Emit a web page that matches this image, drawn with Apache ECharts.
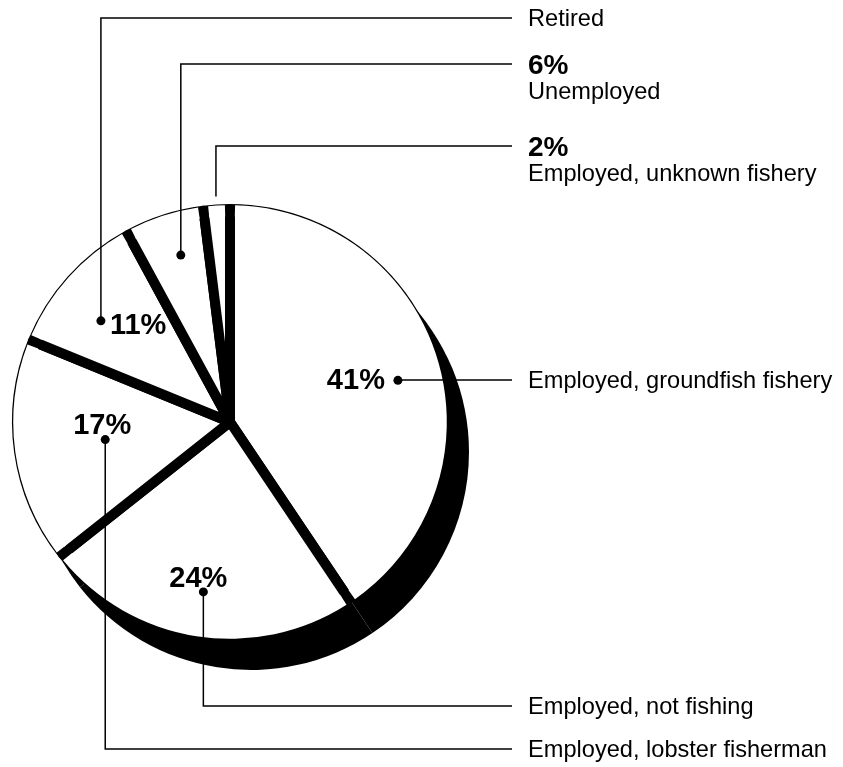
<!DOCTYPE html>
<html><head><meta charset="utf-8">
<script src="https://cdn.jsdelivr.net/npm/echarts@6/dist/echarts.min.js"></script>
<style>html,body{margin:0;padding:0;background:#fff}#c{width:843px;height:767px}</style>
</head><body><div id="c"></div>
<script>
// ---- data ----
const categories = ['Employed, groundfish fishery', 'Employed, not fishing', 'Employed, lobster fisherman', 'Retired', 'Unemployed', 'Employed, unknown fishery'];
const values = [41, 24, 17, 11, 6, 2];
const percentLabels = ['41%', '24%', '17%', '11%', '6%', '2%'];
const pctInside = [true, true, true, true, false, false];
const pctOutside = [false, false, false, false, true, true];

// ---- layout / style constants ----
const CX = 230, CY = 422, R = 218;
const SHADOW_DX = 21, SHADOW_DY = 30;
const GAP = 10;
const FONT = 'Liberation Sans, Arial, sans-serif';
const dotPolar = [[-3, 173], [0, 172], [0, 126], [3.8, 164], [-1.4, 174], [0, 226]]; // [angle tweak deg, radius px]
const hasDot = [true, true, true, true, true, false];
const leaderY = [380, 706, 749, 18, 64, 146];
const TEXT_X = 528, LINE_END_X = 512;
const pctPlace = [
  {dx: -13, dy: 1, align: 'right'},
  {dx: -5, dy: -13, align: 'center'},
  {dx: -3, dy: -14, align: 'center'},
  {dx: 9, dy: 5, align: 'left'},
  null, null
];

const chart = echarts.init(document.getElementById('c'), null, {renderer: 'canvas'});

function dotPos(i) {
  const lay = chart.getModel().getSeriesByIndex(1).getData().getItemLayout(i);
  const mid = (lay.startAngle + lay.endAngle) / 2 - dotPolar[i][0] * Math.PI / 180;
  return [lay.cx + dotPolar[i][1] * Math.cos(mid), lay.cy + dotPolar[i][1] * Math.sin(mid)];
}

const base = {
  type: 'pie', startAngle: 90, clockwise: true, avoidLabelOverlap: false,
  animation: false, emphasis: {disabled: true}, selectedMode: false
};
const plainData = values.map((v, i) => ({name: categories[i], value: v}));

const option = {
  animation: false,
  backgroundColor: '#fff',
  series: [
    // shadow / extrusion
    Object.assign({}, base, {
      z: 1, silent: true, center: [CX + SHADOW_DX, CY + SHADOW_DY], radius: R,
      itemStyle: {color: '#000', borderWidth: 0},
      label: {show: false}, labelLine: {show: false},
      data: plainData
    }),
    // white slices with thick black separators
    Object.assign({}, base, {
      z: 2, silent: true, center: [CX, CY], radius: R - GAP / 2,
      itemStyle: {color: '#fff', borderColor: '#000', borderWidth: GAP, borderJoin: 'round'},
      labelLine: {show: false},
      label: {show: true, position: 'inside', color: '#000', fontFamily: FONT, fontWeight: 'bold', fontSize: 29,
        formatter: p => percentLabels[p.dataIndex]},
      labelLayout: function (p) {
        const pl = pctPlace[p.dataIndex];
        if (!pl) return {};
        const d = dotPos(p.dataIndex);
        return {x: d[0] + pl.dx, y: d[1] + pl.dy, align: pl.align, verticalAlign: 'middle'};
      },
      data: values.map((v, i) => ({name: categories[i], value: v, label: {show: pctInside[i]}}))
    }),
    // thin outer rim: white ring with gaps to thin the outer stroke
    Object.assign({}, base, {
      z: 3, silent: true, center: [CX, CY], radius: [R - GAP - 2.5, R - 1.2],
      padAngle: GAP / (R - GAP / 2) * 180 / Math.PI,
      itemStyle: {color: '#fff', borderWidth: 0},
      label: {show: false}, labelLine: {show: false},
      data: plainData
    }),
    // category labels with leader lines
    Object.assign({}, base, {
      z: 5, silent: true, center: [CX, CY], radius: R,
      itemStyle: {color: 'rgba(0,0,0,0)', borderWidth: 0},
      label: {show: true, position: 'outside', color: '#000', fontFamily: FONT,
        formatter: p => (pctOutside[p.dataIndex] ? '{p|' + percentLabels[p.dataIndex] + '}\n' : '') + '{t|' + categories[p.dataIndex] + '}',
        rich: {
          p: {fontFamily: FONT, fontWeight: 'bold', fontSize: 28, lineHeight: 26, color: '#000'},
          t: {fontFamily: FONT, fontSize: 23.6, lineHeight: 26, color: '#000'}
        }},
      labelLine: {show: true, smooth: false, lineStyle: {color: '#000', width: 1.5}},
      labelLayout: function (p) {
        const i = p.dataIndex;
        const d = dotPos(i);
        const y = leaderY[i];
        const two = pctOutside[i];
        return {x: TEXT_X, y: two ? y - 11 : y - 12, align: 'left', verticalAlign: 'top',
          labelLinePoints: [d, [d[0], y], [LINE_END_X, y]]};
      },
      data: plainData
    }),
    // dots
    Object.assign({}, base, {
      z: 6, silent: true, center: [CX, CY], radius: R,
      itemStyle: {color: 'rgba(0,0,0,0)', borderWidth: 0},
      labelLine: {show: false},
      label: {show: true, position: 'inside', formatter: '{d| }',
        rich: {d: {width: 9, height: 9, lineHeight: 9, fontSize: 6, borderRadius: 4.5, backgroundColor: '#000'}}},
      labelLayout: function (p) {
        const d = dotPos(p.dataIndex);
        return {x: d[0], y: d[1], align: 'center', verticalAlign: 'middle'};
      },
      data: values.map((v, i) => ({name: categories[i], value: v, label: {show: hasDot[i]}}))
    })
  ]
};
chart.setOption(option);
</script>
</body></html>
